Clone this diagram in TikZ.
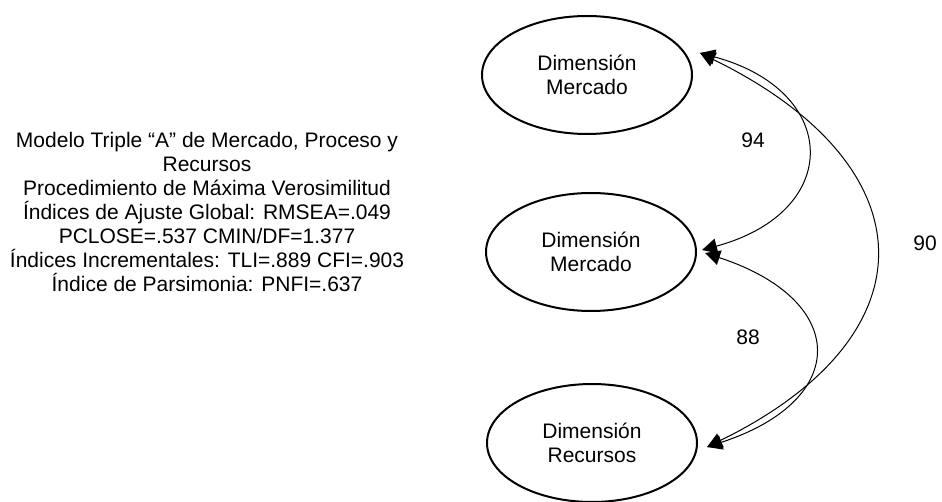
\documentclass[tikz,border=0pt]{standalone}
\usepackage{fontspec}
\setmainfont{Liberation Sans}
\usepackage{tikz}
\usetikzlibrary{shapes,arrows.meta,calc}

\begin{document}
\begin{tikzpicture}[x=0.5pt, y=-0.5pt, font=\fontsize{10.5}{12}\selectfont,
    dimension/.style={ellipse, draw, line width=1pt, minimum width=105pt, minimum height=59pt, align=center, inner sep=0pt},
    covar/.style={line width=0.5pt, {Triangle[length=7.5pt,width=7.5pt]}-{Triangle[length=7.5pt,width=7.5pt]}}]
        \useasboundingbox (0,0) rectangle (942,502);
        \node[dimension] (mercado) at (587,75) {Dimensión\\Mercado};
        \node[dimension] (proceso) at (591,252) {Dimensión\\Mercado};
        \node[dimension] (recursos) at (592,443) {Dimensión\\Recursos};

        \node[align=center] (info) at (207,212) {Modelo Triple “A” de Mercado, Proceso y\\Recursos\\Procedimiento de Máxima Verosimilitud\\Índices de Ajuste Global: RMSEA=.049\\PCLOSE=.537 CMIN/DF=1.377\\Índices Incrementales: TLI=.889 CFI=.903\\Índice de Parsimonia: PNFI=.637};

        \node (r94) at (753,140) {94};
        \node (r88) at (748,337) {88};
        \node (r90) at (925,243) {90};

        \draw[covar] ([shift={(7,-22)}]mercado.east) .. controls (841,91) and (843,212) .. ([shift={(5,-2)}]proceso.east);
        \draw[covar] ([shift={(8,1)}]proceso.east) .. controls (849,300) and (851,400) .. ([shift={(9,4)}]recursos.east);
        \draw[covar] ([shift={(7,-22)}]mercado.east) .. controls (929,165) and (936,335) .. ([shift={(9,4)}]recursos.east);
      \end{tikzpicture}
\end{document}
